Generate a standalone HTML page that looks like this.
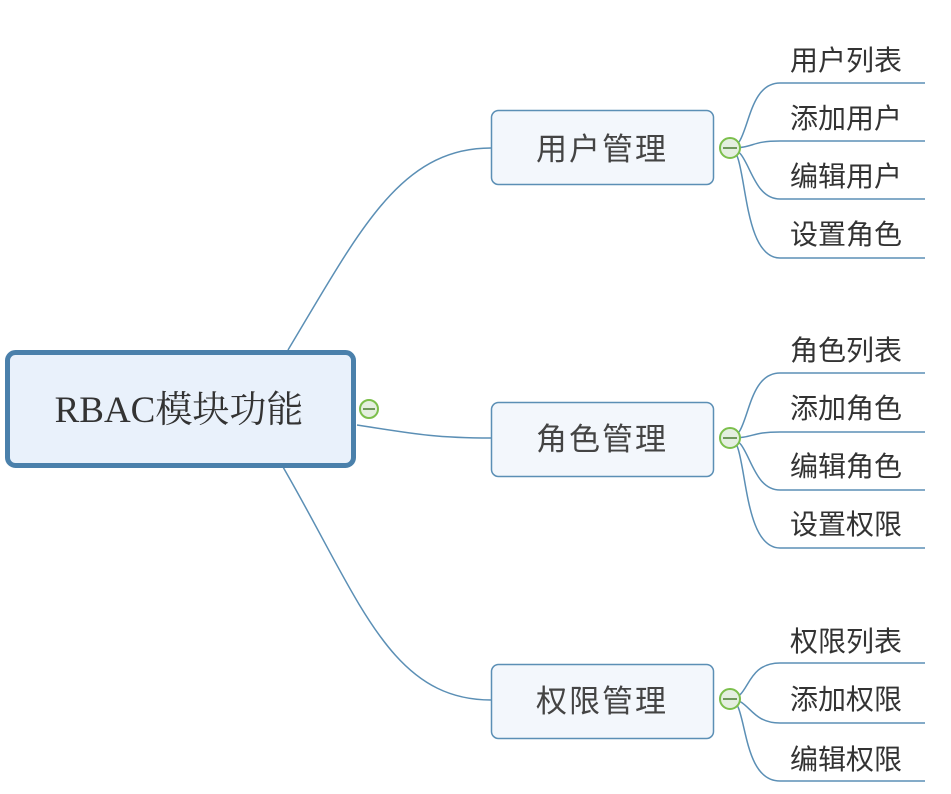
<!DOCTYPE html>
<html><head><meta charset="utf-8"><style>
html,body{margin:0;padding:0;background:#fff;}
svg{display:block;}
.leaf{font-family:"Liberation Sans","Noto Sans CJK SC",sans-serif;font-size:28px;fill:#333;}
.mid{font-family:"Liberation Sans","Noto Sans CJK SC",sans-serif;font-size:31px;fill:#444;letter-spacing:2px;}
.root{font-family:"Liberation Serif","Noto Serif CJK SC",serif;font-size:37px;fill:#333;}
</style></head><body>
<svg width="951" height="794" viewBox="0 0 951 794" xmlns="http://www.w3.org/2000/svg">
<g fill="none" stroke="#5b8fb5" stroke-width="1.5">
<path d="M288,350 C360,230 400,148 491,148"/>
<path d="M357,425 C420,435 440,438 491,438"/>
<path d="M283,467 C360,600 390,700 491,700"/>
<path d="M730,148 C750,148 745,83 780,83 L925,83"/>
<path d="M730,148 C755,148 750,141 780,141 L925,141"/>
<path d="M730,148 C750,148 750,199 780,199 L925,199"/>
<path d="M730,148 C748,148 740,258 780,258 L925,258"/>
<path d="M730,438 C750,438 745,373 780,373 L925,373"/>
<path d="M730,438 C755,438 750,432 780,432 L925,432"/>
<path d="M730,438 C750,438 750,490 780,490 L925,490"/>
<path d="M730,438 C748,438 740,548 780,548 L925,548"/>
<path d="M730,699 C750,699 745,663 780,663 L925,663"/>
<path d="M730,699 C750,699 750,723 780,723 L925,723"/>
<path d="M730,699 C748,699 740,781 780,781 L925,781"/>
</g>
<rect x="7.5" y="352.5" width="346" height="113" rx="8" fill="#e9f1fb" stroke="#4a80ab" stroke-width="5"/>
<text class="root" x="179" y="422" text-anchor="middle">RBAC模块功能</text>
<g fill="#f3f7fc" stroke="#5b8fb5" stroke-width="1.5">
<rect x="491.5" y="110.5" width="222" height="74" rx="7"/>
<rect x="491.5" y="402.5" width="222" height="74" rx="7"/>
<rect x="491.5" y="664.5" width="222" height="74" rx="7"/>
</g>
<text class="mid" x="602" y="160" text-anchor="middle">用户管理</text>
<text class="mid" x="602" y="450" text-anchor="middle">角色管理</text>
<text class="mid" x="602" y="712" text-anchor="middle">权限管理</text>
<g fill="#e4efe0" stroke="#7cbf4c" stroke-width="2">
<circle cx="369" cy="409" r="9"/>
<circle cx="730" cy="148" r="10"/>
<circle cx="730" cy="438" r="10"/>
<circle cx="730" cy="699" r="10"/>
</g>
<g stroke="#4a7a30" stroke-width="1.5">
<line x1="363" y1="409" x2="375" y2="409"/>
<line x1="723" y1="148" x2="737" y2="148"/>
<line x1="723" y1="438" x2="737" y2="438"/>
<line x1="723" y1="699" x2="737" y2="699"/>
</g>
<g class="leaf">
<text x="790" y="70">用户列表</text>
<text x="790" y="128">添加用户</text>
<text x="790" y="186">编辑用户</text>
<text x="790" y="244">设置角色</text>
<text x="790" y="360">角色列表</text>
<text x="790" y="418">添加角色</text>
<text x="790" y="476">编辑角色</text>
<text x="790" y="534">设置权限</text>
<text x="790" y="651">权限列表</text>
<text x="790" y="709">添加权限</text>
<text x="790" y="769">编辑权限</text>
</g>
</svg>
</body></html>
